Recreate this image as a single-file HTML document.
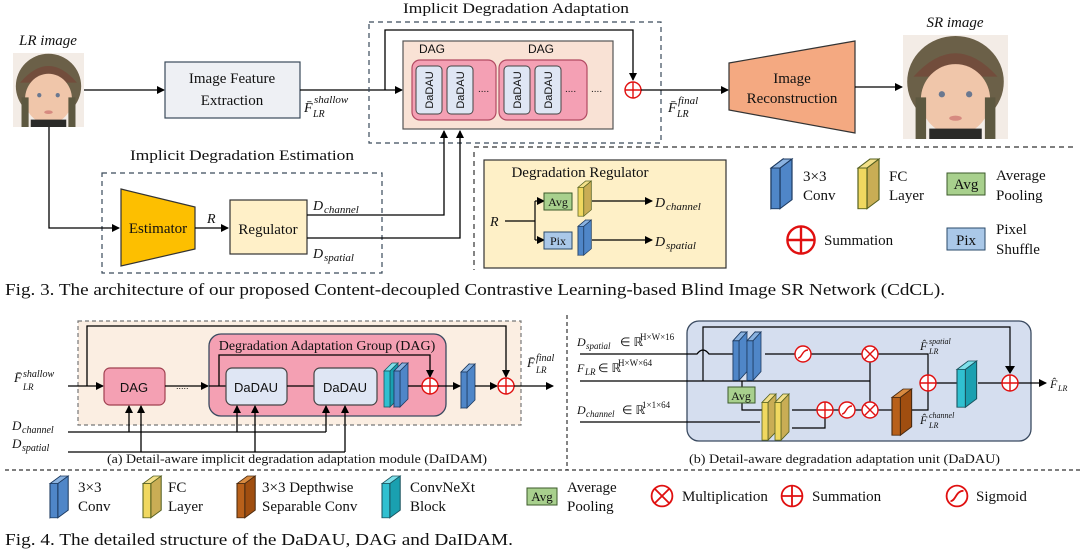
<!DOCTYPE html>
<html><head><meta charset="utf-8"><style>
html,body{margin:0;padding:0;background:#fff}
svg{display:block}
text{font-family:"Liberation Serif",serif;fill:#111}
.sans{font-family:"Liberation Sans","DejaVu Sans",sans-serif}
.it{font-style:italic}
</style></head><body>
<svg width="1089" height="551" viewBox="0 0 1089 551" xmlns="http://www.w3.org/2000/svg">
<defs>
<marker id="ar" markerWidth="8" markerHeight="8" refX="7" refY="4" orient="auto" markerUnits="userSpaceOnUse"><path d="M0,0 L8,4 L0,8 z" fill="#000"/></marker>
<g id="bblue"><polygon points="0,8 8,0 8,36 0,44" fill="#2f62a0" stroke="#1d3a60" stroke-width="0.8"/><polygon points="0,8 8,0 14,0 6,8" fill="#8ab2e0" stroke="#1d3a60" stroke-width="0.8"/><polygon points="6,8 14,0 14,36 6,44" fill="#4f86c8" stroke="#1d3a60" stroke-width="0.8"/><rect x="0" y="8" width="6" height="36" fill="#4f86c8" stroke="#1d3a60" stroke-width="0.8"/></g>
<g id="byel"><polygon points="0,8 8,0 14,0 6,8" fill="#f3e08a" stroke="#556020" stroke-width="0.8"/><polygon points="6,8 14,0 14,36 6,44" fill="#c9ad55" stroke="#556020" stroke-width="0.8"/><rect x="0" y="8" width="6" height="36" fill="#f0d860" stroke="#556020" stroke-width="0.8"/></g>
<g id="bbrown"><polygon points="0,8 8,0 14,0 6,8" fill="#d88a40" stroke="#4a2a10" stroke-width="0.8"/><polygon points="6,8 14,0 14,36 6,44" fill="#a04e10" stroke="#4a2a10" stroke-width="0.8"/><rect x="0" y="8" width="6" height="36" fill="#b8601a" stroke="#4a2a10" stroke-width="0.8"/></g>
<g id="bteal"><polygon points="0,8 8,0 14,0 6,8" fill="#7fe0ea" stroke="#1a5560" stroke-width="0.8"/><polygon points="6,8 14,0 14,36 6,44" fill="#1aa0b0" stroke="#1a5560" stroke-width="0.8"/><rect x="0" y="8" width="6" height="36" fill="#30c0d0" stroke="#1a5560" stroke-width="0.8"/></g>
<g id="plus"><circle cx="0" cy="0" r="8" fill="#fff" stroke="#e01010" stroke-width="1.4"/><path d="M-8,0H8M0,-8V8" stroke="#e01010" stroke-width="1.4"/></g>
<g id="mul"><circle cx="0" cy="0" r="8" fill="#fff" stroke="#e01010" stroke-width="1.4"/><path d="M-5.6,-5.6L5.6,5.6M5.6,-5.6L-5.6,5.6" stroke="#e01010" stroke-width="1.4"/></g>
<g id="sig"><circle cx="0" cy="0" r="8" fill="#fff" stroke="#e01010" stroke-width="1.4"/><path d="M-5,4C-1,4 -1,-4 5,-4" fill="none" stroke="#e01010" stroke-width="1.4"/></g>
<g id="face">
<rect x="0" y="0" width="100" height="100" fill="#f3ece6"/>
<ellipse cx="50" cy="45" rx="46" ry="44" fill="#6b6048"/>
<path d="M10,40 Q50,-5 90,40" fill="#7a3a30" opacity="0.5"/>
<ellipse cx="50" cy="62" rx="33" ry="34" fill="#f0c6aa"/>
<rect x="12" y="60" width="10" height="40" fill="#5d5840"/><rect x="78" y="60" width="10" height="40" fill="#5d5840"/>
<rect x="25" y="90" width="50" height="10" fill="#2a2a28"/>
<circle cx="37" cy="57" r="3" fill="#6a7890"/><circle cx="63" cy="57" r="3" fill="#6a7890"/>
<ellipse cx="50" cy="80" rx="6" ry="2.5" fill="#d68a80"/>
</g>
</defs>

<!-- ===== FIG 3 ===== -->
<text x="48" y="45" font-size="15" text-anchor="middle" class="it">LR image</text>
<use href="#face" transform="translate(13,53) scale(0.71,0.74)"/>
<line x1="84" y1="90" x2="164" y2="90" stroke="#000" stroke-width="1.3" marker-end="url(#ar)"/>
<rect x="165" y="62" width="135" height="56" fill="#eef0f4" stroke="#3a4a5a" stroke-width="1.2"/>
<text x="232" y="83" font-size="15" text-anchor="middle">Image Feature</text>
<text x="232" y="105" font-size="15" text-anchor="middle">Extraction</text>
<text x="304" y="112" font-size="14" class="it">F̄</text><text x="314" y="103" font-size="11" class="it">shallow</text><text x="313" y="117" font-size="10" class="it">LR</text>
<line x1="300" y1="90" x2="402" y2="90" stroke="#000" stroke-width="1.3" marker-end="url(#ar)"/>

<text x="403" y="13" font-size="15" textLength="226" lengthAdjust="spacingAndGlyphs">Implicit Degradation Adaptation</text>
<rect x="369" y="22" width="292" height="121" fill="none" stroke="#3a4a5a" stroke-width="1.2" stroke-dasharray="5,4"/>
<rect x="403" y="41" width="210" height="88" fill="#f9e2d5" stroke="#555" stroke-width="1.2"/>
<polyline points="385,90 385,30 633,30 633,80" fill="none" stroke="#000" stroke-width="1.3" marker-end="url(#ar)"/>
<text x="432" y="53" font-size="12" text-anchor="middle" class="sans">DAG</text>
<text x="541" y="53" font-size="12" text-anchor="middle" class="sans">DAG</text>
<rect x="412" y="60" width="84" height="60" rx="8" fill="#f4a0b4" stroke="#b24a62" stroke-width="1.2"/>
<rect x="499" y="60" width="88" height="60" rx="8" fill="#f4a0b4" stroke="#b24a62" stroke-width="1.2"/>
<g font-size="11" class="sans">
<rect x="416" y="66" width="26" height="48" rx="4" fill="#dfe6f4" stroke="#444"/>
<rect x="447" y="66" width="26" height="48" rx="4" fill="#dfe6f4" stroke="#444"/>
<rect x="504" y="66" width="26" height="48" rx="4" fill="#dfe6f4" stroke="#444"/>
<rect x="535" y="66" width="26" height="48" rx="4" fill="#dfe6f4" stroke="#444"/>
<text transform="translate(433,90) rotate(-90)" text-anchor="middle" class="sans">DaDAU</text>
<text transform="translate(464,90) rotate(-90)" text-anchor="middle" class="sans">DaDAU</text>
<text transform="translate(521,90) rotate(-90)" text-anchor="middle" class="sans">DaDAU</text>
<text transform="translate(552,90) rotate(-90)" text-anchor="middle" class="sans">DaDAU</text>
</g>
<text x="478" y="92" font-size="10" class="sans">....</text>
<text x="565" y="92" font-size="10" class="sans">....</text>
<text x="591" y="92" font-size="10" class="sans">....</text>
<use href="#plus" transform="translate(633,90)"/>
<line x1="641" y1="90" x2="728" y2="90" stroke="#000" stroke-width="1.3" marker-end="url(#ar)"/>
<text x="668" y="112" font-size="14" class="it">F̄</text><text x="678" y="104" font-size="11" class="it">final</text><text x="677" y="117" font-size="10" class="it">LR</text>
<polygon points="729,63 855,41 855,133 729,110" fill="#f4a981" stroke="#333" stroke-width="1.2"/>
<text x="792" y="83" font-size="15" text-anchor="middle">Image</text>
<text x="792" y="103" font-size="15" text-anchor="middle">Reconstruction</text>
<line x1="855" y1="87" x2="902" y2="87" stroke="#000" stroke-width="1.3" marker-end="url(#ar)"/>
<text x="955" y="27" font-size="15" text-anchor="middle" class="it">SR image</text>
<use href="#face" transform="translate(903,35) scale(1.05,1.04)"/>

<text x="130" y="160" font-size="15" textLength="224" lengthAdjust="spacingAndGlyphs">Implicit Degradation Estimation</text>
<rect x="102" y="173" width="280" height="100" fill="none" stroke="#3a4a5a" stroke-width="1.2" stroke-dasharray="5,4"/>
<polyline points="49,127 49,228 119,228" fill="none" stroke="#000" stroke-width="1.3" marker-end="url(#ar)"/>
<polygon points="121,189 195,207 195,249 121,266" fill="#fdbf00" stroke="#333" stroke-width="1.2"/>
<text x="158" y="233" font-size="15" text-anchor="middle">Estimator</text>
<text x="207" y="223" font-size="14" class="it">R</text>
<line x1="195" y1="228" x2="228" y2="228" stroke="#000" stroke-width="1.3" marker-end="url(#ar)"/>
<rect x="230" y="200" width="77" height="54" fill="#fff0c8" stroke="#333" stroke-width="1.2"/>
<text x="268" y="234" font-size="15" text-anchor="middle">Regulator</text>
<polyline points="307,215 444,215 444,131" fill="none" stroke="#000" stroke-width="1.3" marker-end="url(#ar)"/>
<polyline points="307,238 460,238 460,131" fill="none" stroke="#000" stroke-width="1.3" marker-end="url(#ar)"/>
<text x="313" y="210" font-size="14" class="it">D</text><text x="324" y="213" font-size="11" class="it">channel</text>
<text x="313" y="258" font-size="14" class="it">D</text><text x="324" y="261" font-size="11" class="it">spatial</text>

<line x1="474" y1="152" x2="474" y2="270" stroke="#333" stroke-width="1.2" stroke-dasharray="5,4"/>
<line x1="474" y1="147" x2="1075" y2="147" stroke="#333" stroke-width="1.2" stroke-dasharray="5,4"/>
<rect x="484" y="160" width="242" height="108" fill="#fef0c7" stroke="#333" stroke-width="1.2"/>
<text x="580" y="177" font-size="15" text-anchor="middle">Degradation Regulator</text>
<text x="490" y="226" font-size="14" class="it">R</text>
<polyline points="505,221 535,221" fill="none" stroke="#000" stroke-width="1.2"/>
<polyline points="535,201 535,240" fill="none" stroke="#000" stroke-width="1.2"/>
<line x1="535" y1="201" x2="544" y2="201" stroke="#000" stroke-width="1.2" marker-end="url(#ar)"/>
<line x1="535" y1="240" x2="544" y2="240" stroke="#000" stroke-width="1.2" marker-end="url(#ar)"/>
<rect x="544" y="193" width="28" height="17" fill="#a8d08d" stroke="#3b5a2a"/><text x="558" y="206" font-size="12" text-anchor="middle">Avg</text>
<rect x="544" y="232" width="28" height="17" fill="#aac8e8" stroke="#2a4a6a"/><text x="558" y="245" font-size="12" text-anchor="middle">Pix</text>
<use href="#byel" transform="translate(578,181) scale(0.95,0.8)"/>
<use href="#bblue" transform="translate(578,220) scale(0.95,0.8)"/>
<line x1="592" y1="201" x2="652" y2="201" stroke="#000" stroke-width="1.2" marker-end="url(#ar)"/>
<line x1="592" y1="240" x2="652" y2="240" stroke="#000" stroke-width="1.2" marker-end="url(#ar)"/>
<text x="655" y="207" font-size="14" class="it">D</text><text x="666" y="210" font-size="11" class="it">channel</text>
<text x="655" y="246" font-size="14" class="it">D</text><text x="666" y="249" font-size="11" class="it">spatial</text>

<use href="#bblue" transform="translate(771,159) scale(1.5,1.13)"/>
<text x="803" y="181" font-size="15">3×3</text><text x="803" y="200" font-size="15">Conv</text>
<use href="#byel" transform="translate(858,159) scale(1.5,1.13)"/>
<text x="889" y="181" font-size="15">FC</text><text x="889" y="200" font-size="15">Layer</text>
<rect x="947" y="173" width="38" height="22" fill="#a8d08d" stroke="#3b5a2a"/><text x="966" y="189" font-size="15" text-anchor="middle">Avg</text>
<text x="996" y="180" font-size="15">Average</text><text x="996" y="200" font-size="15">Pooling</text>
<use href="#plus" transform="translate(801,240) scale(1.7)"/>
<text x="824" y="245" font-size="15">Summation</text>
<rect x="947" y="228" width="38" height="22" fill="#aac8e8" stroke="#2a4a6a"/><text x="966" y="245" font-size="15" text-anchor="middle">Pix</text>
<text x="996" y="234" font-size="15">Pixel</text><text x="996" y="254" font-size="15">Shuffle</text>

<text x="5" y="295" font-size="17" textLength="940" lengthAdjust="spacingAndGlyphs">Fig. 3. The architecture of our proposed Content-decoupled Contrastive Learning-based Blind Image SR Network (CdCL).</text>

<!-- ===== FIG 4 (a) ===== -->
<rect x="78" y="321" width="443" height="104" fill="#fbeee2" stroke="#777" stroke-width="1.2" stroke-dasharray="4,3"/>
<text x="14" y="382" font-size="13" class="it">F̄</text><text x="23" y="377" font-size="10" class="it">shallow</text><text x="23" y="390" font-size="9" class="it">LR</text>
<line x1="68" y1="386" x2="103" y2="386" stroke="#000" stroke-width="1.3" marker-end="url(#ar)"/>
<polyline points="87,386 87,326 506,326 506,377" fill="none" stroke="#000" stroke-width="1.3" marker-end="url(#ar)"/>
<rect x="104" y="368" width="61" height="37" rx="6" fill="#f4a0b3" stroke="#a04050" stroke-width="1.2"/>
<text x="134" y="392" font-size="13" text-anchor="middle" class="sans">DAG</text>
<line x1="165" y1="386" x2="208" y2="386" stroke="#000" stroke-width="1.3" marker-end="url(#ar)"/>
<text x="176" y="389" font-size="9" class="sans">.....</text>
<rect x="209" y="334" width="237" height="82" rx="12" fill="#f4a0b3" stroke="#3a4a60" stroke-width="1.3"/>
<text x="327" y="350" font-size="14" text-anchor="middle">Degradation Adaptation Group (DAG)</text>
<polyline points="209,386 226,386" stroke="#000" stroke-width="1.3"/>
<polyline points="219,386 219,355 430,355 430,377" fill="none" stroke="#000" stroke-width="1.3" marker-end="url(#ar)"/>
<rect x="226" y="368" width="61" height="37" rx="6" fill="#dfe6f4" stroke="#444" stroke-width="1.2"/>
<text x="256" y="392" font-size="13" text-anchor="middle" class="sans">DaDAU</text>
<line x1="287" y1="386" x2="314" y2="386" stroke="#000" stroke-width="1.3"/>
<rect x="314" y="368" width="63" height="37" rx="6" fill="#dfe6f4" stroke="#444" stroke-width="1.2"/>
<text x="345" y="392" font-size="13" text-anchor="middle" class="sans">DaDAU</text>
<use href="#bteal" transform="translate(384,363) scale(1,1)"/>
<use href="#bblue" transform="translate(394,363) scale(1,1)"/>
<line x1="408" y1="386" x2="422" y2="386" stroke="#000" stroke-width="1.3"/>
<use href="#plus" transform="translate(430,386)"/>
<line x1="438" y1="386" x2="460" y2="386" stroke="#000" stroke-width="1.3" marker-end="url(#ar)"/>
<use href="#bblue" transform="translate(461,364)"/>
<line x1="475" y1="386" x2="497" y2="386" stroke="#000" stroke-width="1.3" marker-end="url(#ar)"/>
<use href="#plus" transform="translate(506,386)"/>
<line x1="514" y1="386" x2="553" y2="386" stroke="#000" stroke-width="1.3" marker-end="url(#ar)"/>
<text x="527" y="367" font-size="13" class="it">F̄</text><text x="536" y="361" font-size="10" class="it">final</text><text x="536" y="373" font-size="9" class="it">LR</text>
<text x="12" y="430" font-size="13" class="it">D</text><text x="22" y="433" font-size="10" class="it">channel</text>
<text x="12" y="448" font-size="13" class="it">D</text><text x="22" y="451" font-size="10" class="it">spatial</text>
<polyline points="68,432 326,432" stroke="#000" stroke-width="1.3"/>
<polyline points="68,452 345,452" stroke="#000" stroke-width="1.3"/>
<g fill="none" stroke="#000" stroke-width="1.3" marker-end="url(#ar)">
<polyline points="129,432 129,406"/><polyline points="141,452 141,406"/>
<polyline points="237,432 237,406"/><polyline points="255,452 255,406"/>
<polyline points="326,432 326,406"/><polyline points="345,452 345,406"/>
</g>
<text x="107" y="463" font-size="13" textLength="380" lengthAdjust="spacingAndGlyphs">(a) Detail-aware implicit degradation adaptation module (DaIDAM)</text>

<!-- ===== FIG 4 (b) ===== -->
<line x1="567" y1="315" x2="567" y2="470" stroke="#333" stroke-width="1.2" stroke-dasharray="4,3"/>
<rect x="687" y="321" width="344" height="120" rx="12" fill="#d5deef" stroke="#3a4a60" stroke-width="1.3"/>
<text x="577" y="346" font-size="12" class="it">D</text><text x="586" y="349" font-size="9" class="it">spatial</text><text x="620" y="346" font-size="12">∈ ℝ</text><text x="640" y="340" font-size="9">H×W×16</text>
<text x="577" y="372" font-size="12" class="it">F</text><text x="585" y="375" font-size="9" class="it">LR</text><text x="598" y="372" font-size="12">∈ ℝ</text><text x="618" y="366" font-size="9">H×W×64</text>
<text x="577" y="414" font-size="12" class="it">D</text><text x="586" y="417" font-size="9" class="it">channel</text><text x="622" y="414" font-size="12">∈ ℝ</text><text x="642" y="408" font-size="9">1×1×64</text>
<g fill="none" stroke="#000" stroke-width="1.2">
<path d="M580,354 H697 Q703,346 709,354 H735"/>
<line x1="580" y1="381" x2="870" y2="381"/>
<line x1="580" y1="422" x2="760" y2="422"/>
<polyline points="703,381 703,327 1010,327 1010,373"/>
<line x1="765" y1="354" x2="795" y2="354"/><line x1="811" y1="354" x2="862" y2="354"/>
<polyline points="878,354 928,354 928,375"/>
<line x1="870" y1="362" x2="870" y2="402"/>
<polyline points="742,381 742,387"/><polyline points="742,403 742,410 762,410"/>
<line x1="792" y1="410" x2="817" y2="410"/>
<polyline points="792,428 825,428 825,418"/>
<line x1="833" y1="410" x2="839" y2="410"/><line x1="855" y1="410" x2="862" y2="410"/>
<line x1="878" y1="410" x2="892" y2="410"/>
<polyline points="912,410 928,410 928,391"/>
<line x1="936" y1="383" x2="958" y2="383"/><line x1="978" y1="383" x2="1002" y2="383"/>
</g>
<polygon points="1005,366 1015,366 1010,374" fill="#000"/>
<line x1="1018" y1="383" x2="1046" y2="383" stroke="#000" stroke-width="1.2" marker-end="url(#ar)"/>
<text x="1050" y="388" font-size="12" class="it">F̂</text><text x="1058" y="391" font-size="8" class="it">LR</text>
<use href="#bblue" transform="translate(733,332) scale(1,1.1)"/>
<use href="#bblue" transform="translate(747,332) scale(1,1.1)"/>
<use href="#byel" transform="translate(762,394) scale(1,1.05)"/>
<use href="#byel" transform="translate(775,394) scale(1,1.05)"/>
<rect x="728" y="387" width="27" height="16" fill="#a8d08d" stroke="#3b5a2a"/><text x="741" y="400" font-size="12" text-anchor="middle">Avg</text>
<use href="#sig" transform="translate(803,354)"/>
<use href="#mul" transform="translate(870,354)"/>
<use href="#plus" transform="translate(825,410)"/>
<use href="#sig" transform="translate(847,410)"/>
<use href="#mul" transform="translate(870,410)"/>
<use href="#bbrown" transform="translate(892,389) scale(1.4,1.05)"/>
<use href="#plus" transform="translate(928,383)"/>
<use href="#bteal" transform="translate(957,361) scale(1.4,1.05)"/>
<use href="#plus" transform="translate(1010,383)"/>
<text x="920" y="350" font-size="12" class="it">F̂</text><text x="929" y="344" font-size="8" class="it">spatial</text><text x="929" y="354" font-size="8" class="it">LR</text>
<text x="920" y="424" font-size="12" class="it">F̂</text><text x="929" y="418" font-size="8" class="it">channel</text><text x="929" y="428" font-size="8" class="it">LR</text>
<text x="689" y="463" font-size="13" textLength="311" lengthAdjust="spacingAndGlyphs">(b) Detail-aware degradation adaptation unit (DaDAU)</text>

<!-- legend -->
<line x1="5" y1="470" x2="1080" y2="470" stroke="#333" stroke-width="1.2" stroke-dasharray="4,3"/>
<use href="#bblue" transform="translate(50,476) scale(1.3,0.95)"/>
<text x="78" y="492" font-size="15">3×3</text><text x="78" y="511" font-size="15">Conv</text>
<use href="#byel" transform="translate(143,476) scale(1.3,0.95)"/>
<text x="168" y="492" font-size="15">FC</text><text x="168" y="511" font-size="15">Layer</text>
<use href="#bbrown" transform="translate(237,476) scale(1.3,0.95)"/>
<text x="262" y="492" font-size="15">3×3 Depthwise</text><text x="262" y="511" font-size="15">Separable Conv</text>
<use href="#bteal" transform="translate(382,476) scale(1.3,0.95)"/>
<text x="410" y="492" font-size="15">ConvNeXt</text><text x="410" y="511" font-size="15">Block</text>
<rect x="527" y="488" width="30" height="17" fill="#a8d08d" stroke="#3b5a2a"/><text x="542" y="501" font-size="13" text-anchor="middle">Avg</text>
<text x="567" y="492" font-size="15">Average</text><text x="567" y="511" font-size="15">Pooling</text>
<use href="#mul" transform="translate(662,496) scale(1.3)"/>
<text x="682" y="501" font-size="15">Multiplication</text>
<use href="#plus" transform="translate(792,496) scale(1.3)"/>
<text x="812" y="501" font-size="15">Summation</text>
<use href="#sig" transform="translate(957,496) scale(1.3)"/>
<text x="976" y="501" font-size="15">Sigmoid</text>

<text x="5" y="545" font-size="17" textLength="508" lengthAdjust="spacingAndGlyphs">Fig. 4. The detailed structure of the DaDAU, DAG and DaIDAM.</text>
</svg>
</body></html>
